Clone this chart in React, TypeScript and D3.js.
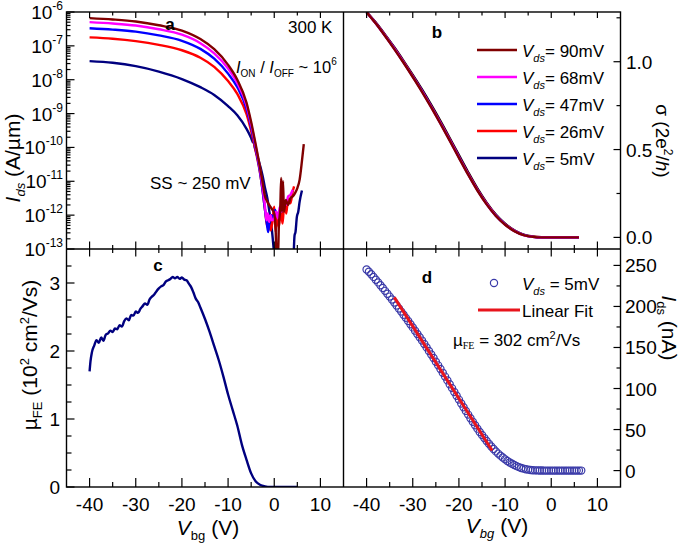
import React from "react";
import * as d3 from "d3";

// ---------------- data ----------------
const vbgMajor = [-40, -30, -20, -10, 0, 10];
const vbgMinor = [-35, -25, -15, -5, 5];
const logDecades = [-13, -12, -11, -10, -9, -8, -7, -6];
const sigmaMajor = [0, 0.5, 1.0];
const sigmaMajorLabels = ["0.0", "0.5", "1.0"];
const sigmaMinor = [0.25, 0.75, 1.25];
const muMajor = [0, 1, 2, 3];
const muMinor = [0.25, 0.5, 0.75, 1.25, 1.5, 1.75, 2.25, 2.5, 2.75, 3.25];
const idsMajor = [0, 50, 100, 150, 200, 250];
const idsMinor = [25, 75, 125, 175, 225];

const vdsLabels = ["90mV", "68mV", "47mV", "26mV", "5mV"];
const vdsColors = ["#800000", "#ff00ff", "#0000ff", "#ff0000", "#00007f"];

// panel a: [Vbg (V), log10 Ids (A/um)]
const ids90: number[][] = [[-40,-6.18],[-35,-6.22],[-30,-6.28],[-25,-6.39],[-20,-6.55],[-16,-6.80],[-13,-7.10],[-10,-7.56],[-8,-8.0],[-6,-8.68],[-5,-9.25],[-4,-9.93],[-3,-10.65],[-2.5,-11.05],[-2,-11.45],[-1.5,-11.6],[-1,-11.72],[-0.5,-11.82],[0,-11.95],[0.3,-12.4],[0.5,-13.3],[0.8,-13.3],[1.0,-12.3],[1.3,-11.8],[1.5,-10.9],[1.7,-11.9],[1.9,-11.0],[2.1,-11.9],[2.5,-11.55],[3.0,-11.7],[3.5,-11.5],[4.0,-11.45],[4.5,-11.35],[5.0,-11.2],[5.5,-10.95],[6.0,-10.4],[6.4,-9.9]];
const ids68: number[][] = [[-40,-6.30],[-35,-6.34],[-30,-6.40],[-25,-6.51],[-20,-6.67],[-16,-6.92],[-13,-7.22],[-10,-7.67],[-8,-8.1],[-6,-8.76],[-5,-9.32],[-4,-9.98],[-3,-10.72],[-2.5,-11.2],[-2,-11.75],[-1.7,-12.15],[-1.4,-11.95],[-1.1,-12.2],[-0.8,-12.0],[-0.5,-12.15],[0,-12.1],[0.4,-11.9],[0.8,-12.1],[1.2,-11.75],[1.6,-11.9],[2.0,-11.6],[2.5,-11.7],[3.0,-11.45],[3.5,-11.4],[4.0,-11.25]];
const ids47: number[][] = [[-40,-6.48],[-35,-6.52],[-30,-6.58],[-25,-6.69],[-20,-6.85],[-16,-7.09],[-13,-7.38],[-10,-7.82],[-8,-8.22],[-6,-8.86],[-5,-9.4],[-4,-10.05],[-3,-10.8],[-2.5,-11.3],[-2,-11.85],[-1.6,-12.25],[-1.3,-12.5],[-1.0,-12.1],[-0.6,-12.0],[-0.2,-12.1],[0.2,-11.85],[0.5,-12.0],[0.8,-11.9]];
const ids26: number[][] = [[-40,-6.75],[-35,-6.79],[-30,-6.86],[-25,-6.97],[-20,-7.13],[-16,-7.35],[-13,-7.62],[-10,-8.04],[-8,-8.42],[-6,-9.02],[-5,-9.52],[-4,-10.12],[-3,-10.82],[-2.5,-11.3],[-2,-11.85],[-1.5,-12.35],[-1.2,-12.2],[-0.8,-12.45],[-0.4,-12.2],[0,-11.75],[0.3,-12.5],[0.6,-12.0],[1.0,-12.35],[1.4,-11.85],[1.8,-12.25],[2.2,-11.6],[2.6,-11.95],[3.0,-11.5],[3.5,-11.65],[4.0,-11.3],[4.3,-11.15]];
const ids5a: number[][] = [[-40,-7.45],[-35,-7.50],[-30,-7.60],[-25,-7.76],[-20,-7.98],[-16,-8.22],[-13,-8.45],[-10,-8.78],[-8,-9.05],[-6,-9.45],[-5,-9.72],[-4.6,-9.85],[-4.5,-9.78],[-4.3,-9.95],[-4,-10.1],[-3,-10.57],[-2.5,-10.85],[-2,-11.2],[-1.5,-11.5],[-1,-11.95],[-0.5,-12.45],[0,-13.2]];
const ids5b: number[][] = [[4.2,-13.2],[4.4,-12.6],[4.6,-12.5],[4.9,-12.05],[5.2,-11.9],[5.5,-11.6],[6.0,-11.27]];

// panel b: sigma (2e^2/h) vs Vbg
const sigmaV = [-40,-38,-36,-34,-32,-30,-28,-26,-24,-22,-20,-18,-16,-14,-12,-10,-8,-6,-4,-2,0,2,4,6];
const sigma90 = [1.282,1.217,1.146,1.072,0.994,0.913,0.829,0.740,0.647,0.551,0.453,0.357,0.267,0.188,0.122,0.072,0.036,0.013,0.003,0.000,0,0,0,0];
const sigma68 = [1.282,1.218,1.148,1.074,0.996,0.915,0.831,0.742,0.649,0.553,0.455,0.359,0.269,0.190,0.123,0.073,0.037,0.013,0.003,0.000,0,0,0,0];
const sigma47 = [1.282,1.219,1.149,1.076,0.998,0.917,0.834,0.745,0.652,0.556,0.458,0.361,0.271,0.191,0.124,0.074,0.037,0.014,0.003,0.000,0,0,0,0];
const sigma26 = [1.282,1.220,1.151,1.078,1.000,0.919,0.836,0.747,0.655,0.559,0.461,0.364,0.273,0.193,0.126,0.075,0.038,0.014,0.004,0.001,0,0,0,0];
const sigma5 = [1.282,1.223,1.154,1.082,1.005,0.925,0.842,0.754,0.662,0.566,0.468,0.371,0.279,0.198,0.130,0.078,0.040,0.016,0.005,0.001,0,0,0,0];
const sigmaSeries = [sigma90, sigma68, sigma47, sigma26, sigma5];

// panel c: mobility (10^2 cm^2/Vs) vs Vbg
const muFE: number[][] = [[-40,1.70],[-39.8,1.85],[-39.5,1.98],[-39,2.08],[-38.5,2.16],[-38,2.12],[-37.5,2.20],[-37,2.15],[-36.5,2.24],[-36,2.26],[-35.5,2.30],[-35,2.28],[-34.5,2.33],[-34,2.32],[-33.5,2.38],[-33,2.36],[-32.5,2.44],[-32,2.48],[-31.5,2.45],[-31,2.53],[-30.5,2.52],[-30,2.58],[-29.5,2.56],[-29,2.62],[-28.5,2.66],[-28,2.70],[-27.5,2.68],[-27,2.76],[-26.5,2.80],[-26,2.83],[-25.5,2.88],[-25,2.92],[-24.5,2.95],[-24,2.97],[-23.5,3.02],[-23,3.04],[-22.5,3.06],[-22,3.09],[-21.5,3.07],[-21,3.09],[-20.5,3.06],[-20,3.08],[-19.5,3.05],[-19,3.04],[-18.5,2.99],[-18,2.94],[-17.5,2.86],[-17,2.77],[-16.5,2.72],[-16,2.64],[-15,2.47],[-14,2.28],[-13,2.07],[-12,1.86],[-11,1.62],[-10,1.36],[-9,1.13],[-8,0.90],[-7,0.62],[-6,0.40],[-5,0.20],[-4,0.08],[-3,0.03],[-2,0.01],[-1,0],[0,0],[1,0],[2,0],[3,0],[4,0],[5,0]];

// panel d: Ids (nA) at Vds = 5 mV, Vbg from -40 to 6.5 in 0.5 V steps
const idsDStart = -40;
const idsDStep = 0.5;
const idsD = [245.0,242.3,239.2,236.0,232.6,229.3,225.9,222.5,219.0,215.5,212.0,208.4,204.8,201.1,197.4,193.7,189.9,186.1,182.3,178.4,174.5,170.5,166.5,162.5,158.4,154.3,150.1,145.8,141.5,137.1,132.7,128.2,123.7,119.1,114.5,109.9,105.2,100.5,95.8,91.1,86.5,81.8,77.2,72.7,68.2,63.8,59.4,55.2,51.1,47.1,43.3,39.6,36.0,32.6,29.4,26.3,23.4,20.7,18.2,15.9,13.7,11.7,9.9,8.3,6.8,5.4,4.2,3.2,2.4,1.7,1.2,0.8,0.5,0.3,0.2,0.1,0.05,0,0,0,0,0,0,0,0,0,0,0,0,0,0,0,0,0];
const fitV = [-34, -12.8];
const fitI = [211, 24.4];

// ---------------- layout ----------------
const W = 685, H = 546;
const X0 = 66.5, XM = 343.5, X1 = 620.5;
const Y0 = 12, YM = 249, Y1 = 487;
const FONT = "'Liberation Sans', Arial, Helvetica, sans-serif";
const CIRC = "#3a3aa8";
const FITC = "#e8141c";

export default function App() {
  const xL = d3.scaleLinear().domain([-45, 15]).range([X0, XM]);
  const xR = d3.scaleLinear().domain([-45, 15]).range([XM, X1]);
  const yA = d3.scaleLog().domain([1e-13, 1e-6]).range([YM, Y0]);
  const yB = d3.scaleLinear().domain([-0.066, 1.283]).range([YM, Y0]);
  const yC = d3.scaleLinear().domain([0, 3.5]).range([Y1, YM]);
  const yD = d3.scaleLinear().domain([-20, 270]).range([Y1, YM]);

  const lineA = d3.line<number[]>().x(d => xL(d[0])).y(d => yA(Math.pow(10, d[1]))).curve(d3.curveMonotoneX);
  const lineB = (s: number[]) =>
    d3.line<number>().x((_, i) => xR(sigmaV[i])).y(d => yB(d)).curve(d3.curveMonotoneX)(s) || "";
  const lineC = d3.line<number[]>().x(d => xL(d[0])).y(d => yC(d[1])).curve(d3.curveMonotoneX);

  const aCurves: [number[][], string][] = [
    [ids5a, vdsColors[4]],
    [ids5b, vdsColors[4]],
    [ids26, vdsColors[3]],
    [ids47, vdsColors[2]],
    [ids68, vdsColors[1]],
    [ids90, vdsColors[0]],
  ];

  const tk = { stroke: "#000", strokeWidth: 1.2 };
  const minorLog: number[] = [];
  logDecades.slice(0, -1).forEach(e => {
    for (let k = 2; k <= 9; k++) minorLog.push(k * Math.pow(10, e));
  });

  const xs = [xL, xR];

  return (
    <svg width={W} height={H} style={{ position: "absolute", left: 0, top: 0, background: "#fff" }} fontFamily={FONT}>
      <defs>
        <clipPath id="clipA"><rect x={X0} y={Y0} width={XM - X0} height={YM - Y0} /></clipPath>
        <clipPath id="clipB"><rect x={XM} y={Y0} width={X1 - XM} height={YM - Y0} /></clipPath>
        <clipPath id="clipC"><rect x={X0} y={YM} width={XM - X0} height={Y1 - YM} /></clipPath>
        <clipPath id="clipD"><rect x={XM} y={YM} width={X1 - XM} height={Y1 - YM} /></clipPath>
      </defs>
      <rect x={0} y={0} width={W} height={H} fill="#fff" />

      {/* panel a */}
      <g clipPath="url(#clipA)">
        {aCurves.map(([d, c], i) => (
          <path key={i} d={lineA(d) || ""} fill="none" stroke={c} strokeWidth={2.4} strokeLinejoin="round" />
        ))}
      </g>

      {/* panel b */}
      <g clipPath="url(#clipB)">
        {[4, 3, 2, 1, 0].map(i => (
          <path key={i} d={lineB(sigmaSeries[i])} fill="none" stroke={i === 4 ? "#000" : vdsColors[i]} strokeWidth={2.4} />
        ))}
      </g>

      {/* panel c */}
      <g clipPath="url(#clipC)">
        <path d={lineC(muFE) || ""} fill="none" stroke="#00007f" strokeWidth={2.4} strokeLinejoin="round" />
      </g>

      {/* panel d */}
      <g clipPath="url(#clipD)">
        {idsD.map((v, i) => (
          <circle key={i} cx={xR(idsDStart + i * idsDStep)} cy={yD(v)} r={3.6} fill="none" stroke={CIRC} strokeWidth={1.2} />
        ))}
        <line x1={xR(fitV[0])} y1={yD(fitI[0])} x2={xR(fitV[1])} y2={yD(fitI[1])} stroke={FITC} strokeWidth={3} />
      </g>

      {/* frame */}
      <rect x={X0} y={Y0} width={X1 - X0} height={Y1 - Y0} fill="none" stroke="#000" strokeWidth={1.4} />
      <line x1={XM} y1={Y0} x2={XM} y2={Y1} stroke="#000" strokeWidth={1.4} />
      <line x1={X0} y1={YM} x2={X1} y2={YM} stroke="#000" strokeWidth={1.4} />

      {/* x ticks */}
      {xs.map((sc, j) => (
        <g key={j}>
          {vbgMajor.map(v => (
            <g key={v}>
              <line x1={sc(v)} x2={sc(v)} y1={Y0} y2={Y0 + 6} {...tk} />
              <line x1={sc(v)} x2={sc(v)} y1={YM - 7.5} y2={YM + 7.5} {...tk} />
              <line x1={sc(v)} x2={sc(v)} y1={Y1 - 9} y2={Y1} {...tk} />
              <text x={sc(v)} y={511} fontSize={19} textAnchor="middle">{v}</text>
            </g>
          ))}
          {vbgMinor.map(v => (
            <g key={v}>
              <line x1={sc(v)} x2={sc(v)} y1={Y0} y2={Y0 + 3.5} {...tk} />
              <line x1={sc(v)} x2={sc(v)} y1={YM - 4} y2={YM + 4} {...tk} />
              <line x1={sc(v)} x2={sc(v)} y1={Y1 - 5} y2={Y1} {...tk} />
            </g>
          ))}
        </g>
      ))}

      {/* panel a y axis (log) */}
      {logDecades.map(e => {
        const y = yA(Math.pow(10, e));
        return (
          <g key={e}>
            <line x1={X0} x2={X0 + 8} y1={y} y2={y} {...tk} />
            <text x={63} y={y + 7} fontSize={19} textAnchor="end">
              10<tspan dy={-9} fontSize={12}>{e}</tspan>
            </text>
          </g>
        );
      })}
      {minorLog.map((v, i) => (
        <line key={i} x1={X0} x2={X0 + 4} y1={yA(v)} y2={yA(v)} {...tk} />
      ))}

      {/* panel c y axis */}
      {muMajor.map(v => (
        <g key={v}>
          <line x1={X0} x2={X0 + 8} y1={yC(v)} y2={yC(v)} {...tk} />
          <text x={60} y={yC(v) + 6.5} fontSize={19} textAnchor="end">{v}</text>
        </g>
      ))}
      {muMinor.map(v => (
        <line key={v} x1={X0} x2={X0 + 5} y1={yC(v)} y2={yC(v)} {...tk} />
      ))}

      {/* panel b right axis */}
      {sigmaMajor.map((v, i) => (
        <g key={v}>
          <line x1={X1 - 7} x2={X1} y1={yB(v)} y2={yB(v)} {...tk} />
          <text x={626} y={yB(v) + 7} fontSize={19}>{sigmaMajorLabels[i]}</text>
        </g>
      ))}
      {sigmaMinor.map(v => (
        <line key={v} x1={X1 - 4} x2={X1} y1={yB(v)} y2={yB(v)} {...tk} />
      ))}

      {/* panel d right axis */}
      {idsMajor.map(v => (
        <g key={v}>
          <line x1={X1 - 7} x2={X1} y1={yD(v)} y2={yD(v)} {...tk} />
          <text x={625} y={yD(v) + 7} fontSize={19}>{v}</text>
        </g>
      ))}
      {idsMinor.map(v => (
        <line key={v} x1={X1 - 4} x2={X1} y1={yD(v)} y2={yD(v)} {...tk} />
      ))}

      {/* panel a annotations */}
      <text x={170} y={30} fontSize={17} fontWeight="bold" textAnchor="middle">a</text>
      <text x={288} y={33} fontSize={17}>300 K</text>
      <text x={236} y={73} fontSize={16.5}>
        <tspan fontStyle="italic">I</tspan>
        <tspan dy={4} fontSize={10}>ON</tspan>
        <tspan dy={-4}> / </tspan>
        <tspan fontStyle="italic">I</tspan>
        <tspan dy={4} fontSize={10}>OFF</tspan>
        <tspan dy={-4}> ~ 10</tspan>
        <tspan dy={-8} fontSize={10}>6</tspan>
      </text>
      <text x={150} y={189} fontSize={17}>SS ~ 250 mV</text>

      {/* panel b annotations & legend */}
      <text x={437} y={38} fontSize={17} fontWeight="bold" textAnchor="middle">b</text>
      {vdsLabels.map((lab, i) => {
        const y = 50 + i * 27;
        return (
          <g key={lab}>
            <line x1={477} x2={517} y1={y} y2={y} stroke={vdsColors[i]} strokeWidth={2.4} />
            <text x={522} y={y + 7} fontSize={17}>
              <tspan fontStyle="italic">V</tspan>
              <tspan dy={5} fontSize={11} fontStyle="italic">ds</tspan>
              <tspan dy={-5}>= {lab}</tspan>
            </text>
          </g>
        );
      })}

      {/* panel c annotation */}
      <text x={158} y={271} fontSize={17} fontWeight="bold" textAnchor="middle">c</text>

      {/* panel d annotations & legend */}
      <text x={427} y={283} fontSize={17} fontWeight="bold" textAnchor="middle">d</text>
      <circle cx={494} cy={283} r={3.6} fill="none" stroke={CIRC} strokeWidth={1.2} />
      <text x={522} y={290} fontSize={17}>
        <tspan fontStyle="italic">V</tspan>
        <tspan dy={5} fontSize={11} fontStyle="italic">ds</tspan>
        <tspan dy={-5}> = 5mV</tspan>
      </text>
      <line x1={478} x2={520} y1={310} y2={310} stroke={FITC} strokeWidth={3} />
      <text x={522} y={317} fontSize={17}>Linear Fit</text>
      <text x={453} y={346} fontSize={17}>
        µ<tspan dy={3} fontSize={10} fontFamily="'Liberation Serif', serif">FE</tspan>
        <tspan dy={-3}> = 302 cm</tspan>
        <tspan dy={-7} fontSize={11}>2</tspan>
        <tspan dy={7}>/Vs</tspan>
      </text>

      {/* axis titles */}
      <text transform="translate(20,158) rotate(-90)" fontSize={21} textAnchor="middle">
        <tspan fontStyle="italic">I</tspan>
        <tspan dy={5} fontSize={13} fontStyle="italic">ds</tspan>
        <tspan dy={-5}> (A/µm)</tspan>
      </text>
      <text transform="translate(37,355) rotate(-90)" fontSize={21} textAnchor="middle">
        µ<tspan dy={5} fontSize={13}>FE</tspan>
        <tspan dy={-5}> (10</tspan>
        <tspan dy={-8} fontSize={13}>2</tspan>
        <tspan dy={8}> cm</tspan>
        <tspan dy={-8} fontSize={13}>2</tspan>
        <tspan dy={8}>/Vs)</tspan>
      </text>
      <text transform="translate(656,141) rotate(90)" fontSize={19} textAnchor="middle">
        σ (2e<tspan dy={-8} fontSize={12}>2</tspan>
        <tspan dy={8}>/</tspan>
        <tspan fontStyle="italic">h</tspan>
        <tspan>)</tspan>
      </text>
      <text transform="translate(662,328) rotate(90)" fontSize={21} textAnchor="middle">
        <tspan fontStyle="italic">I</tspan>
        <tspan dy={5} fontSize={13}>ds</tspan>
        <tspan dy={-5}> (nA)</tspan>
      </text>
      <text x={208} y={535} fontSize={21} textAnchor="middle">
        <tspan fontStyle="italic">V</tspan>
        <tspan dy={5} fontSize={13}>bg</tspan>
        <tspan dy={-5}> (V)</tspan>
      </text>
      <text x={497} y={533} fontSize={21} textAnchor="middle">
        <tspan fontStyle="italic">V</tspan>
        <tspan dy={5} fontSize={13} fontStyle="italic">bg</tspan>
        <tspan dy={-5}> (V)</tspan>
      </text>
    </svg>
  );
}
